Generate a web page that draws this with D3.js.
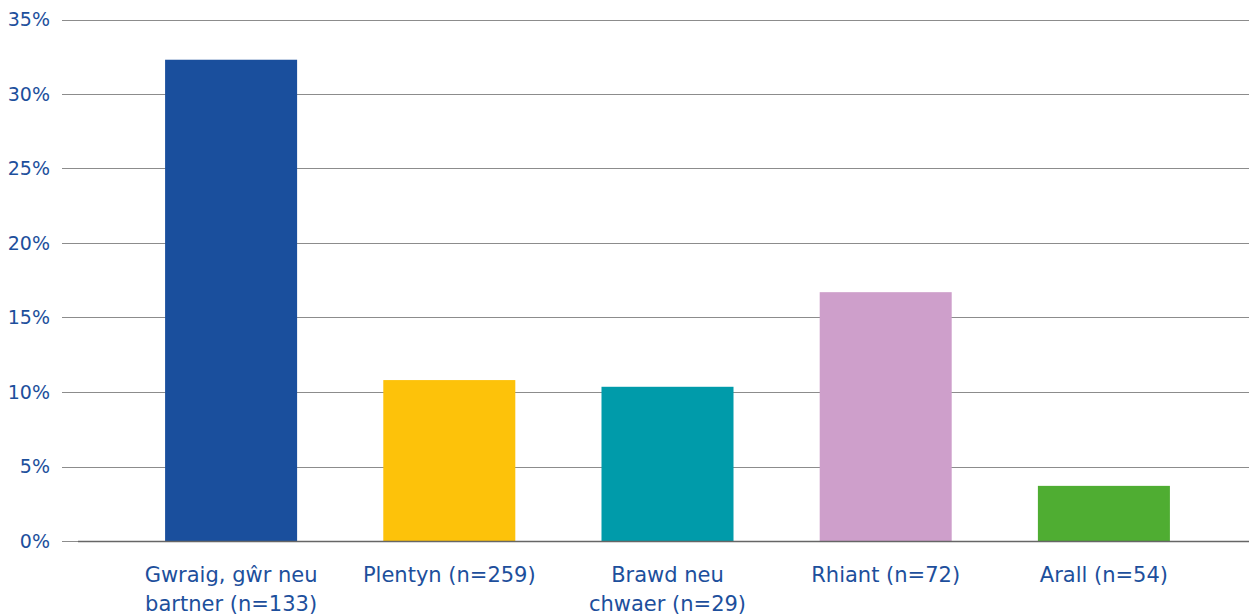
<!DOCTYPE html>
<html>
<head>
<meta charset="utf-8">
<script src="https://cdn.jsdelivr.net/npm/d3@7"></script>
<style>
  body { margin: 0; background: #fff; }
  text { font-family: "DejaVu Sans", "Noto Sans", sans-serif; fill: #1d4f9c; }
</style>
</head>
<body>
<div id="chart"></div>
<script>
// categories (label lines) and values in percent
var categories = [
  ["Gwraig, gŵr neu", "bartner (n=133)"],
  ["Plentyn (n=259)"],
  ["Brawd neu", "chwaer (n=29)"],
  ["Rhiant (n=72)"],
  ["Arall (n=54)"]
];
var values = [32.3, 10.8, 10.35, 16.7, 3.7];
var colors = ["#1a4f9d", "#fdc20a", "#009baa", "#ce9fcb", "#4fad32"];
var yTicks = [0, 5, 10, 15, 20, 25, 30, 35];

var width = 1249, height = 616;

var svg = d3.select("#chart")
  .append("svg")
  .attr("width", width)
  .attr("height", height);

var x = d3.scaleBand()
  .domain(d3.range(values.length))
  .range([122, 1213])
  .paddingInner(0.395)
  .paddingOuter(0.1975);

var y = d3.scaleLinear().domain([0, 35]).range([541, 19.5]);

// gridlines
svg.append("g")
  .selectAll("line")
  .data(yTicks)
  .enter()
  .append("line")
  .attr("x1", 62)
  .attr("x2", width)
  .attr("y1", (d) => Math.round(y(d)) + 0.5)
  .attr("y2", (d) => Math.round(y(d)) + 0.5)
  .attr("stroke", "#8c8c8c")
  .attr("stroke-width", 1);

// y labels
svg.append("g")
  .selectAll("text")
  .data(yTicks)
  .enter()
  .append("text")
  .attr("x", 50)
  .attr("y", (d) => y(d))
  .attr("dy", "0.35em")
  .attr("text-anchor", "end")
  .style("font-size", "19px")
  .text((d) => d + "%");

// bars
svg.append("g")
  .selectAll("rect")
  .data(values)
  .enter()
  .append("rect")
  .attr("x", (d, i) => x(i))
  .attr("y", (d) => y(d))
  .attr("width", x.bandwidth())
  .attr("height", (d) => y(0) - y(d))
  .attr("fill", (d, i) => colors[i]);

// baseline
svg.append("line")
  .attr("x1", 78)
  .attr("x2", width)
  .attr("y1", y(0) + 0.5)
  .attr("y2", y(0) + 0.5)
  .attr("stroke", "#666")
  .attr("stroke-width", 1.5);

// x labels
var labels = svg.append("g")
  .selectAll("text")
  .data(categories)
  .enter()
  .append("text")
  .attr("text-anchor", "middle")
  .style("font-size", "21px");

labels.selectAll("tspan")
  .data((d, i) => d.map((t) => ({ t: t, i: i })))
  .enter()
  .append("tspan")
  .attr("x", (d) => x(d.i) + x.bandwidth() / 2)
  .attr("y", (d, j) => 582 + j * 29)
  .text((d) => d.t);
</script>
</body>
</html>
